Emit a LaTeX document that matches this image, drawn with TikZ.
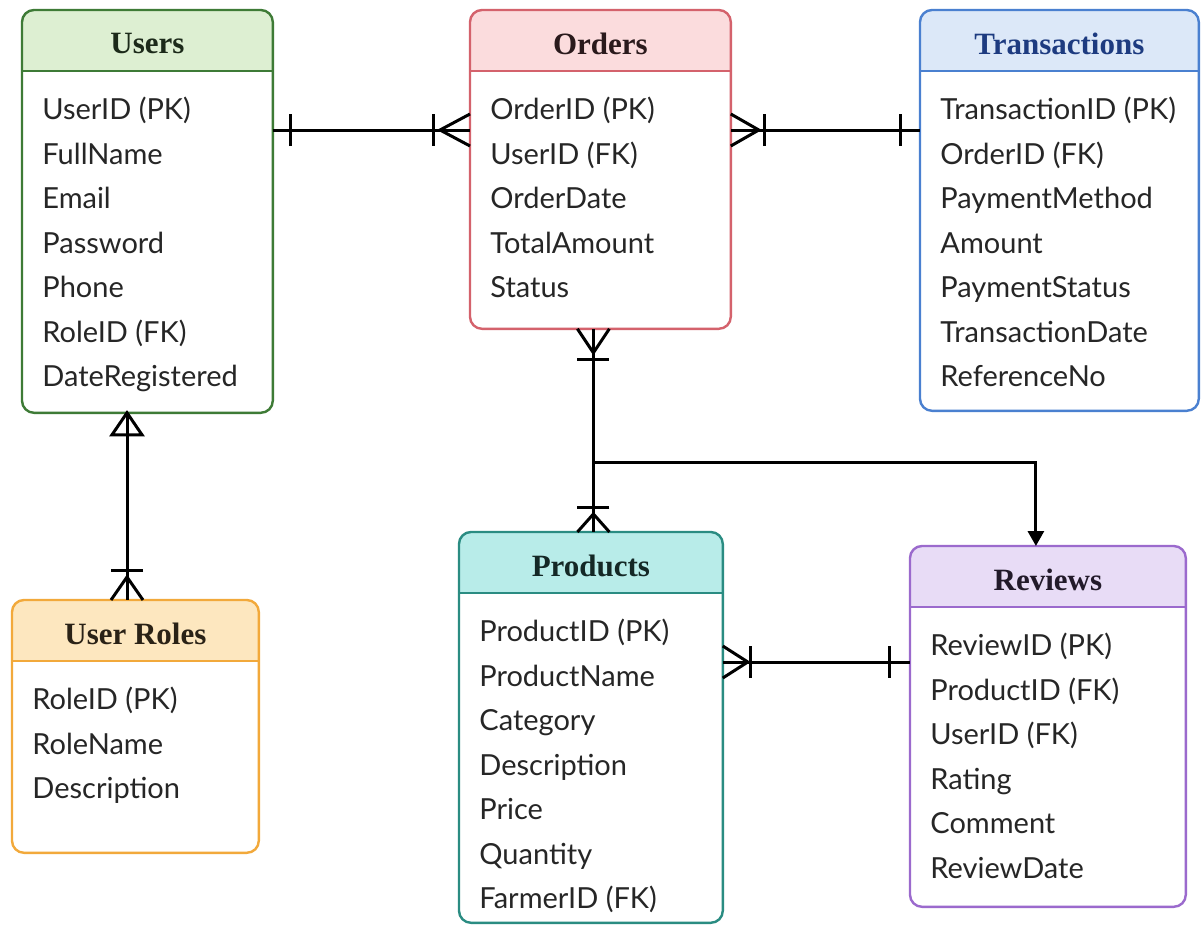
\documentclass[tikz,border=0pt]{standalone}
\usepackage{fontspec}
\setmainfont{Lato}
\newfontfamily\titlefont{Liberation Serif}
\usetikzlibrary{calc,arrows.meta}

\definecolor{usersline}{HTML}{3E7B36}
\definecolor{usersfill}{HTML}{DDEFD2}
\definecolor{userstext}{HTML}{1C2A1A}
\definecolor{ordersline}{HTML}{D4626C}
\definecolor{ordersfill}{HTML}{FBDCDD}
\definecolor{orderstext}{HTML}{2A1A1C}
\definecolor{transline}{HTML}{4A80D0}
\definecolor{transfill}{HTML}{DCE8F8}
\definecolor{transtext}{HTML}{1D3B80}
\definecolor{rolesline}{HTML}{F2A93B}
\definecolor{rolesfill}{HTML}{FDE7BF}
\definecolor{rolestext}{HTML}{2A2216}
\definecolor{prodline}{HTML}{2A8C82}
\definecolor{prodfill}{HTML}{B8ECE9}
\definecolor{prodtext}{HTML}{142826}
\definecolor{revline}{HTML}{9B6ACD}
\definecolor{revfill}{HTML}{E8DCF6}
\definecolor{revtext}{HTML}{221A2A}

\tikzset{
  entbox/.style={draw=#1line, line width=1.2pt, rounded corners=6pt},
  rel/.style={line width=1.5pt, black},
  crowline/.style={line width=1.5pt, black},
  field/.style={font=\fontsize{14.5}{17}\selectfont, inner sep=0pt, anchor=base west, text=black!85},
  enttitle/.style={font=\titlefont\bfseries\fontsize{15.5}{18}\selectfont, inner sep=0pt},
  pics/one/.style={code={\draw[crowline] (-#1,-16) -- (-#1,16);}},
  pics/many/.style={code={\draw[crowline] (0,-16) -- (-#1,0) -- (0,16);}},
  pics/opentri/.style={code={\draw[crowline] (0,0) -- (-22,-15) -- (-22,15) -- cycle;}},
}

% name, x, y, width, height, colour, title, fields
\newcommand{\entity}[8]{%
  \node[anchor=north west, minimum width=#4*0.5pt, minimum height=#5*0.5pt, inner sep=0pt] (#1) at (#2,#3) {};
  \begin{scope}
    \clip[rounded corners=6pt] (#1.north west) rectangle (#1.south east);
    \fill[#6fill] (#1.north west) rectangle ($(#1.north east)+(0,61)$);
  \end{scope}
  \draw[#6line, line width=1.2pt] ($(#1.north west)+(0,61)$) -- ($(#1.north east)+(0,61)$);
  \draw[entbox=#6] (#1.north west) rectangle (#1.south east);
  \node[enttitle, text=#6text] (#1-title) at ($(#1.north)+(0,34)$) {#7};
  \foreach \f [count=\i] in {#8}
    \node[field] (#1-\i) at ($(#1.north west)+(20,65+44.5*\i)$) {\f};
}

\begin{document}
\begin{tikzpicture}[x=0.5pt, y=-0.5pt]
  \useasboundingbox[fill=white] (0,0) rectangle (1201,926);

  \entity{users}{22}{10}{250}{402}{users}{Users}{UserID (PK), FullName, Email, Password, Phone, RoleID (FK), DateRegistered}
  \entity{orders}{470}{10}{260}{318}{orders}{Orders}{OrderID (PK), UserID (FK), OrderDate, TotalAmount, Status}
  \entity{trans}{920}{10}{278}{400}{trans}{Transactions}{TransactionID (PK), OrderID (FK), PaymentMethod, Amount, PaymentStatus, TransactionDate, ReferenceNo}
  \entity{roles}{12}{600}{246}{252}{roles}{User Roles}{RoleID (PK), RoleName, Description}
  \entity{prod}{459}{532}{263}{390}{prod}{Products}{ProductID (PK), ProductName, Category, Description, Price, Quantity, FarmerID (FK)}
  \entity{rev}{910}{546}{275}{360}{rev}{Reviews}{ReviewID (PK), ProductID (FK), UserID (FK), Rating, Comment, ReviewDate}

  % Users -- Orders
  \coordinate (uo-a) at ($(users.north east)+(0,120)$);
  \coordinate (uo-b) at (uo-a -| orders.west);
  \draw[rel] (uo-a) -- (uo-b);
  \pic[rotate=180] at (uo-a) {one=18};
  \pic at (uo-b) {many=30};
  \pic at (uo-b) {one=37};

  % Orders -- Transactions
  \coordinate (ot-a) at ($(orders.north east)+(0,120)$);
  \coordinate (ot-b) at (ot-a -| trans.west);
  \draw[rel] (ot-a) -- (ot-b);
  \pic[rotate=180] at (ot-a) {many=28};
  \pic[rotate=180] at (ot-a) {one=34};
  \pic at (ot-b) {one=20};

  % Users -- User Roles
  \coordinate (ur-a) at ($(users.south west)+(105,0)$);
  \coordinate (ur-b) at (ur-a |- roles.north);
  \draw[rel] (ur-a) -- (ur-b);
  \pic[rotate=90] at (ur-a) {opentri};
  \pic[rotate=-90] at (ur-b) {many=23};
  \pic[rotate=-90] at (ur-b) {one=30};

  % Orders -- Products
  \coordinate (op-a) at ($(orders.south)+(-7,0)$);
  \coordinate (op-b) at (op-a |- prod.north);
  \coordinate (op-c) at ($(op-a)+(0,134)$);
  \draw[rel] (op-a) -- (op-b);
  \pic[rotate=90] at (op-a) {many=24};
  \pic[rotate=90] at (op-a) {one=31};
  \pic[rotate=-90] at (op-b) {many=18};
  \pic[rotate=-90] at (op-b) {one=25};

  % Orders -- Reviews
  \coordinate (or-b) at ($(rev.north)+(-12,0)$);
  \draw[rel, -{Triangle[length=7.5pt, width=8pt]}] (op-c) -| (or-b);

  % Products -- Reviews
  \coordinate (pr-b) at ($(rev.north west)+(0,116)$);
  \coordinate (pr-a) at (pr-b -| prod.east);
  \draw[rel] (pr-a) -- (pr-b);
  \pic[rotate=180] at (pr-a) {many=25};
  \pic[rotate=180] at (pr-a) {one=28};
  \pic at (pr-b) {one=21};
\end{tikzpicture}
\end{document}
